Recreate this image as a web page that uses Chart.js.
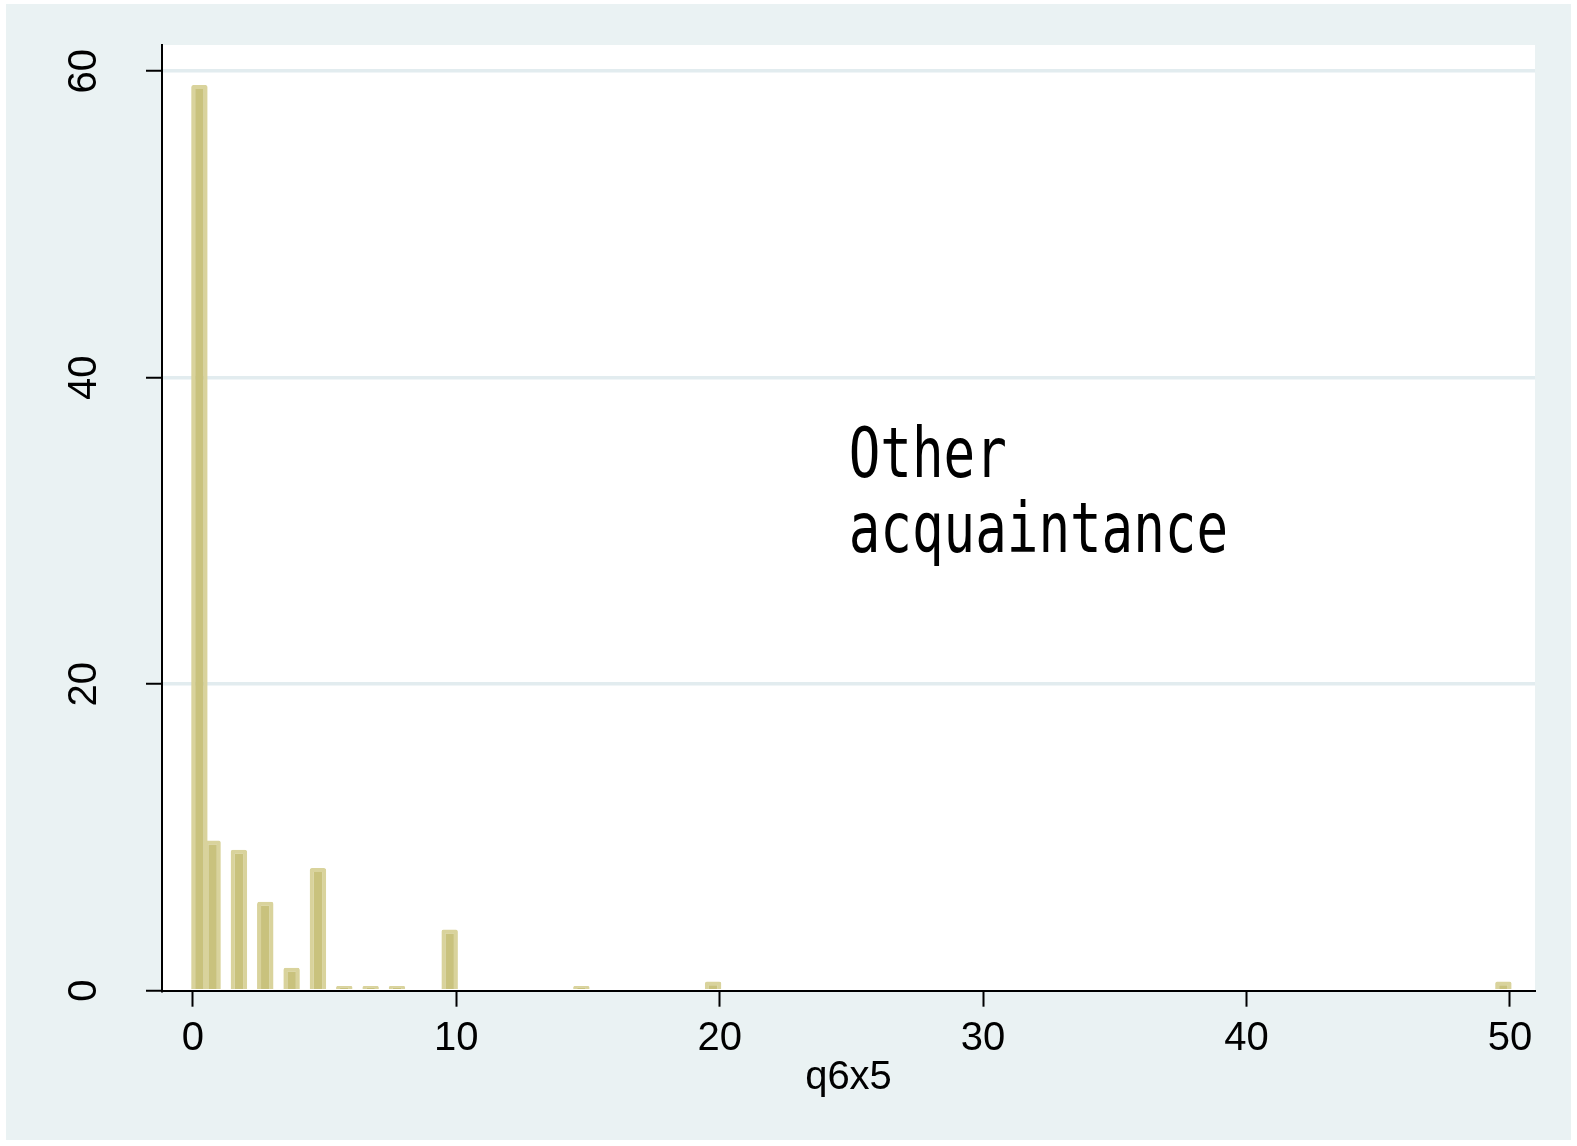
<!DOCTYPE html>
<html>
<head>
<meta charset="utf-8">
<script src="https://cdn.jsdelivr.net/npm/chart.js@4/dist/chart.umd.min.js"></script>
<style>
  html, body { margin: 0; padding: 0; background: #ffffff; }
  canvas { display: block; }
</style>
</head>
<body>
<canvas id="hist" width="1577" height="1146"></canvas>
<script>
// Observed values of q6x5 and the percent of respondents at each value
const q6x5Values   = [0, 1, 2, 3, 4, 5, 6, 7, 8, 10, 15, 20, 50];
const percentValues = [59.1, 9.8, 9.2, 5.8, 1.5, 8.0, 0.3, 0.3, 0.3, 4.0, 0.3, 0.6, 0.6];

// Histogram bin width (bins are right-closed, the first one also holds 0)
const binWidth = 0.5;

// Axis tick values
const xTickValues = [0, 10, 20, 30, 40, 50];
const yTickValues = [0, 20, 40, 60];

// Annotation text
const noteLines = ['Other', 'acquaintance'];

function binMidpoint(v) {
  const k = Math.max(0, Math.ceil(v / binWidth) - 1);
  return (k + 0.5) * binWidth;
}

const barPoints = q6x5Values.map((v, i) => ({ x: binMidpoint(v), y: percentValues[i] }));

const PAGE_BG = '#ffffff';
const GRAPH_BG = 'rgb(234,242,243)';
const GRID = 'rgb(226,236,239)';
const BAR_FILL = 'rgb(201,194,125)';
const BAR_EDGE = 'rgb(217,211,156)';
const LABEL_FONT = '"Liberation Sans", Arial, sans-serif';

const backdrop = {
  id: 'backdrop',
  beforeDraw(chart) {
    const { ctx, chartArea: a } = chart;
    ctx.save();
    ctx.fillStyle = PAGE_BG;
    ctx.fillRect(0, 0, chart.width, chart.height);
    ctx.fillStyle = GRAPH_BG;
    ctx.fillRect(6, 4, chart.width - 12, chart.height - 10);
    ctx.fillStyle = '#ffffff';
    ctx.fillRect(a.left, a.top, a.right - a.left, a.bottom - a.top);
    ctx.restore();
  }
};

const note = {
  id: 'note',
  afterDatasetsDraw(chart, args, opts) {
    const { ctx, scales } = chart;
    const px = scales.x.getPixelForValue(opts.x);
    const py = scales.y.getPixelForValue(opts.y);
    ctx.save();
    ctx.fillStyle = '#000000';
    ctx.font = opts.size + 'px "DejaVu Sans Mono", monospace';
    ctx.textAlign = 'left';
    ctx.textBaseline = 'middle';
    opts.lines.forEach((line, i) => {
      ctx.save();
      ctx.translate(px, py + i * opts.lineGap);
      ctx.scale(opts.squeeze, 1);
      ctx.fillText(line, 0, 0);
      ctx.restore();
    });
    ctx.restore();
  }
};

new Chart(document.getElementById('hist'), {
  type: 'bar',
  data: {
    datasets: [{
      data: barPoints,
      backgroundColor: BAR_FILL,
      borderColor: BAR_EDGE,
      borderWidth: 4,
      borderSkipped: 'start',
      borderRadius: 2,
      categoryPercentage: 1.0,
      barPercentage: 1.25
    }]
  },
  options: {
    responsive: false,
    devicePixelRatio: 1,
    animation: false,
    events: [],
    layout: { padding: { left: 0, top: 45, right: 42, bottom: 0 } },
    plugins: {
      legend: { display: false },
      tooltip: { enabled: false },
      note: { x: 24.9, y: 34.7, lines: noteLines, size: 70, squeeze: 0.75, lineGap: 75 }
    },
    scales: {
      x: {
        type: 'linear',
        min: -1.17,
        max: 50.95,
        offset: false,
        afterBuildTicks: s => { s.ticks = xTickValues.map(v => ({ value: v })); },
        afterFit: s => { s.height = 155.3; s.paddingLeft = 0; s.paddingRight = 0; },
        grid: {
          display: true,
          offset: false,
          drawOnChartArea: false,
          drawTicks: true,
          tickLength: 16,
          tickWidth: 2,
          tickColor: '#000000'
        },
        border: { display: true, color: '#000000', width: 2, z: 1 },
        ticks: {
          color: '#000000',
          font: { family: LABEL_FONT, size: 40 },
          padding: 8,
          maxRotation: 0,
          autoSkip: false
        },
        title: {
          display: true,
          text: 'q6x5',
          color: '#000000',
          font: { family: LABEL_FONT, size: 40 },
          padding: { top: 0, bottom: 44 }
        }
      },
      y: {
        type: 'linear',
        min: 0,
        max: 61.71,
        afterBuildTicks: s => { s.ticks = yTickValues.map(v => ({ value: v })); },
        afterFit: s => { s.width = 162; s.paddingTop = 0; s.paddingBottom = 0; },
        grid: {
          display: true,
          drawOnChartArea: true,
          drawTicks: true,
          color: c => (c.tick && c.tick.value === 0 ? 'rgba(0,0,0,0)' : GRID),
          lineWidth: 3.5,
          tickLength: 16,
          tickWidth: 2,
          tickColor: '#000000'
        },
        border: { display: true, color: '#000000', width: 2 },
        ticks: {
          color: '#000000',
          font: { family: LABEL_FONT, size: 40 },
          minRotation: 90,
          maxRotation: 90,
          crossAlign: 'center',
          padding: 39,
          autoSkip: false
        }
      }
    }
  },
  plugins: [backdrop, note]
});
</script>
</body>
</html>
